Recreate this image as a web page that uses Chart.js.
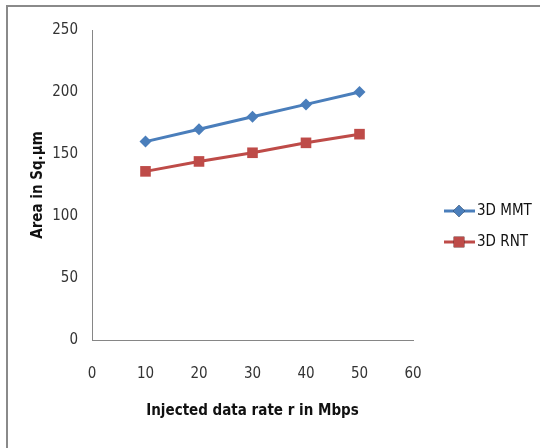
<!DOCTYPE html>
<html>
<head>
<meta charset="utf-8">
<script src="https://cdn.jsdelivr.net/npm/chart.js@4/dist/chart.umd.min.js"></script>
<style>
  html, body { margin: 0; padding: 0; background: #fff; overflow: hidden; }
  #wrap { position: relative; width: 540px; height: 448px; overflow: hidden; }
  .edge { position: absolute; background: #8a8a8a; }
  #edgeTop { left: 6px; top: 5px; width: 534px; height: 2px; }
  #edgeLeft { left: 6px; top: 5px; width: 2px; height: 443px; }
  canvas { position: absolute; left: 0; top: 0; }
</style>
</head>
<body>
<div id="wrap">
  <div class="edge" id="edgeTop"></div>
  <div class="edge" id="edgeLeft"></div>
  <canvas id="chart" width="540" height="448"></canvas>
</div>
<script>
// data
const dataRates = [10, 20, 30, 40, 50];
const mmtArea = [160, 170, 180, 190, 200];
const rntArea = [136, 144, 151, 159, 166];
const seriesNames = ['3D MMT', '3D RNT'];

const FONT = '"Liberation Sans Narrow", "DejaVu Sans Condensed", sans-serif';
const blue = '#4A7EBB';
const red = '#BE4B48';

// Excel style legend: short line with the marker in the middle
const sideLegend = {
  id: 'sideLegend',
  afterDraw(chart) {
    const ctx = chart.ctx;
    const rows = [211, 242];
    chart.data.datasets.forEach((ds, i) => {
      const y = rows[i];
      ctx.save();
      ctx.strokeStyle = ds.borderColor;
      ctx.lineWidth = 3;
      ctx.beginPath();
      ctx.moveTo(444, y);
      ctx.lineTo(475, y);
      ctx.stroke();
      Chart.helpers.drawPoint(ctx, {
        pointStyle: ds.pointStyle, radius: ds.pointRadius, borderWidth: 0
      }, 459, y);
      ctx.fillStyle = ds.pointBackgroundColor;
      ctx.fill();
      ctx.fillStyle = '#111';
      ctx.font = '15px ' + FONT;
      ctx.textBaseline = 'middle';
      ctx.fillText(ds.label, 477, y);
      ctx.restore();
    });
  }
};

new Chart(document.getElementById('chart'), {
  type: 'line',
  data: {
    datasets: [
      {
        label: seriesNames[0],
        data: dataRates.map((x, i) => ({ x: x, y: mmtArea[i] })),
        borderColor: blue,
        backgroundColor: blue,
        pointBackgroundColor: blue,
        pointBorderWidth: 0,
        borderWidth: 3,
        pointStyle: 'rectRot',
        pointRadius: 6
      },
      {
        label: seriesNames[1],
        data: dataRates.map((x, i) => ({ x: x, y: rntArea[i] })),
        borderColor: red,
        backgroundColor: red,
        pointBackgroundColor: red,
        pointBorderWidth: 0,
        borderWidth: 3,
        pointStyle: 'rect',
        pointRadius: 7.5
      }
    ]
  },
  options: {
    responsive: false,
    animation: false,
    layout: { padding: { left: 25, top: 30, right: 127, bottom: 24 } },
    plugins: { legend: { display: false }, tooltip: { enabled: false } },
    scales: {
      x: {
        type: 'linear',
        min: 0, max: 60,
        afterFit: s => { s.height = 84; },
        grid: { display: false, drawTicks: false },
        border: { display: true, color: '#868686', width: 1 },
        ticks: { stepSize: 10, padding: 25, color: '#333', font: { family: FONT, size: 15 } },
        title: {
          display: true, text: 'Injected data rate r in Mbps', color: '#111',
          font: { family: FONT, size: 15, weight: 'bold' }
        }
      },
      y: {
        min: 0, max: 250,
        afterFit: s => { s.width = 67; },
        grid: { display: false, drawTicks: false },
        border: { display: true, color: '#868686', width: 1 },
        ticks: { stepSize: 50, padding: 14, color: '#333', font: { family: FONT, size: 15 } },
        title: {
          display: true, text: 'Area in Sq.µm', color: '#111',
          font: { family: FONT, size: 15, weight: 'bold' }
        }
      }
    }
  },
  plugins: [sideLegend]
});
</script>
</body>
</html>
